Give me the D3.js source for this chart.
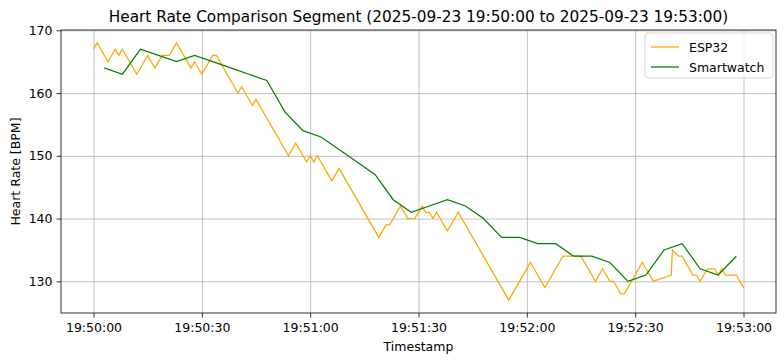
<!DOCTYPE html>
<html>
<head>
<meta charset="utf-8">
<script src="https://cdn.jsdelivr.net/npm/d3@7"></script>
<style>
  body { margin: 0; background: #fff; }
  svg { font-family: "DejaVu Sans", sans-serif; }
  .grid line { stroke: #b0b0b0; stroke-width: 0.8; }
  .grid path { display: none; }
</style>
</head>
<body>
<svg id="chart"></svg>
<script>

// segment start, everything below is seconds after this
var startTime = "2025-09-23 19:50:00";

// ESP32 readings (seconds, bpm)
var espSec = [0,1,4,6,7,8,12,15,17,19,21,23,27,28,30,33,34,40,41,44,45,54,56,59,60,61,62,66,68,79,81,82,85,87,89,91,92,93,94,95,98,101,115,121,125,130,135,139,141,143,144,146,147,152,155,160,160.3,162,163,166,167,168,170,172,173,174,175,178,180];
var espBpm = [167,168,165,167,166,167,163,166,164,166,166,168,164,165,163,166,166,160,161,158,159,150,152,149,150,149,150,146,148,137,139,139,142,140,140,142,141,141,140,141,138,141,127,133,129,134,134,130,132,130,130,128,128,133,130,131,135,134,134,131,131,130,132,132,131,132,131,131,129];

// smartwatch readings (seconds, bpm)
var watchSec = [3,8,13,18,23,28,33,38,43,48,53,58,63,68,73,78,83,88,93,98,103,108,113,118,123,128,133,138,143,148,153,158,163,168,173,178];
var watchBpm = [164,163,167,166,165,166,165,164,163,162,157,154,153,151,149,147,143,141,142,143,142,140,137,137,136,136,134,134,133,130,131,135,136,132,131,134];

var yTicks = [130,140,150,160,170];
var seriesNames = ["ESP32", "Smartwatch"];

function drawChart(el){

  var margin = {top: 30, right: 8, bottom: 49, left: 61},
      width = 784 - margin.left - margin.right,
      height = 362 - margin.top - margin.bottom;

  var parse = d3.timeParse("%Y-%m-%d %H:%M:%S");
  var t0 = parse(startTime);
  function toDate(s){ return new Date(t0.getTime() + s * 1000); }

  var esp = espSec.map(function(s, i){ return {t: toDate(s), v: espBpm[i]}; });
  var watch = watchSec.map(function(s, i){ return {t: toDate(s), v: watchBpm[i]}; });

  // matplotlib style 5% padding
  var x = d3.scaleTime()
      .domain([toDate(-9), toDate(189)])
      .range([0, width]);
  var y = d3.scaleLinear()
      .domain([124.95, 170.05])
      .range([height, 0]);

  var svg = d3.select(el)
      .attr("width", 784)
      .attr("height", 362);

  var g = svg.append("g")
      .attr("transform", "translate(" + margin.left + "," + margin.top + ")");

  // gridlines
  g.append("g")
      .attr("class", "grid")
      .attr("transform", "translate(0," + height + ")")
      .call(d3.axisBottom(x).ticks(d3.timeSecond.every(30)).tickSize(-height).tickFormat(""));
  g.append("g")
      .attr("class", "grid")
      .call(d3.axisLeft(y).tickValues(yTicks).tickSize(-width).tickFormat(""));

  var line = d3.line()
      .x(function(d){ return x(d.t); })
      .y(function(d){ return y(d.v); });

  g.append("path")
      .datum(esp)
      .attr("fill", "none")
      .attr("stroke", "orange")
      .attr("stroke-width", 1.25)
      .attr("d", line);

  g.append("path")
      .datum(watch)
      .attr("fill", "none")
      .attr("stroke", "green")
      .attr("stroke-width", 1.25)
      .attr("d", line);

  // frame
  g.append("rect")
      .attr("width", width)
      .attr("height", height)
      .attr("fill", "none")
      .attr("stroke", "#000")
      .attr("stroke-width", 0.8);

  // axes
  var xAxis = g.append("g")
      .attr("transform", "translate(0," + height + ")")
      .call(d3.axisBottom(x).ticks(d3.timeSecond.every(30))
        .tickFormat(d3.timeFormat("%H:%M:%S")).tickSizeOuter(0).tickSize(4.5).tickPadding(5.5));
  var yAxis = g.append("g")
      .call(d3.axisLeft(y).tickValues(yTicks).tickSizeOuter(0).tickSize(4.5).tickPadding(4));

  [xAxis, yAxis].forEach(function(a){
    a.select(".domain").remove();
    a.selectAll("line").attr("stroke", "#000").attr("stroke-width", 0.8);
    a.selectAll("text").attr("fill", "#000").style("font-size", "12.5px")
      .style("font-family", "DejaVu Sans");
  });

  // title
  svg.append("text")
      .attr("x", margin.left + width / 2)
      .attr("y", 22)
      .attr("text-anchor", "middle")
      .style("font-size", "15.3px")
      .text("Heart Rate Comparison Segment (2025-09-23 19:50:00 to 2025-09-23 19:53:00)");

  // axis labels
  svg.append("text")
      .attr("x", margin.left + width / 2)
      .attr("y", 351)
      .attr("text-anchor", "middle")
      .style("font-size", "12.5px")
      .text("Timestamp");

  svg.append("text")
      .attr("transform", "rotate(-90)")
      .attr("x", -(margin.top + height / 2))
      .attr("y", 20)
      .attr("text-anchor", "middle")
      .style("font-size", "12.5px")
      .text("Heart Rate [BPM]");

  // legend
  var colors = ["orange", "green"];
  var lg = svg.append("g").attr("transform", "translate(645,33)");
  lg.append("rect")
      .attr("width", 128)
      .attr("height", 45)
      .attr("rx", 3)
      .attr("fill", "#fff")
      .attr("fill-opacity", 0.8)
      .attr("stroke", "#cccccc")
      .attr("stroke-width", 0.8);
  seriesNames.forEach(function(name, i){
    var yy = 14 + i * 20;
    lg.append("line")
        .attr("x1", 6).attr("x2", 34)
        .attr("y1", yy).attr("y2", yy)
        .attr("stroke", colors[i])
        .attr("stroke-width", 1.25);
    lg.append("text")
        .attr("x", 44)
        .attr("y", yy + 4.5)
        .style("font-size", "12.5px")
        .text(name);
  });
}

drawChart(document.querySelector("#chart"));
</script>
</body>
</html>
